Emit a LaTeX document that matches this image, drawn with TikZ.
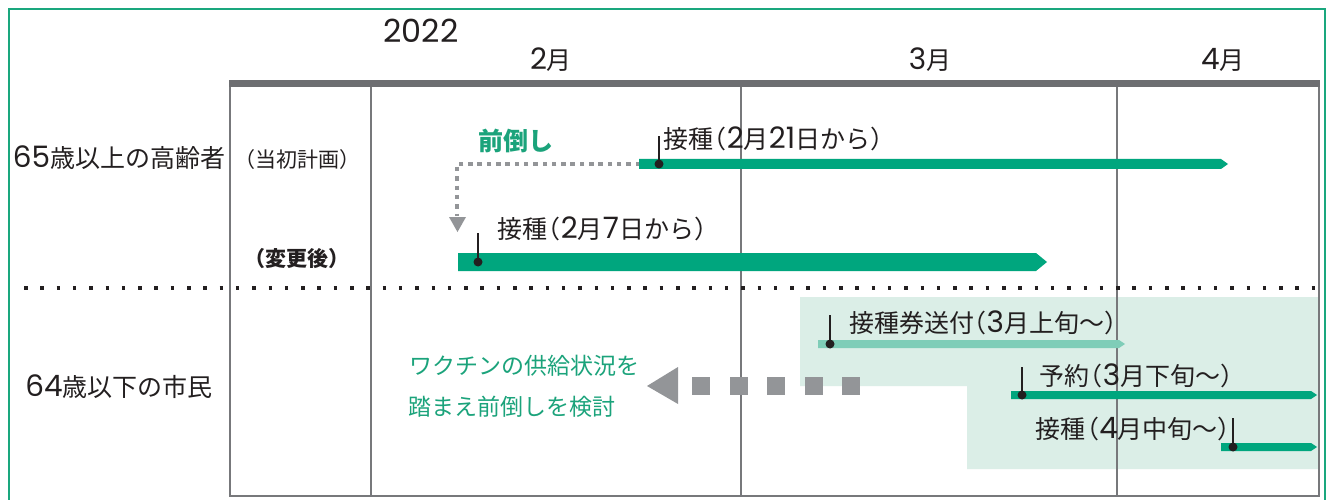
\documentclass[tikz,border=0pt]{standalone}
\usepackage{fontspec}
\setmainfont{Noto Sans CJK JP}
\newfontfamily\digf[Scale=1.18]{Poppins}
\newcommand\nm[1]{{\digf #1}}
\usetikzlibrary{calc}
\definecolor{frameg}{HTML}{1AA77E}
\definecolor{barg}{HTML}{00A67E}
\definecolor{lightbar}{HTML}{7FCDB8}
\definecolor{bgg}{HTML}{DBEEE7}
\definecolor{txtg}{HTML}{1BA37B}
\definecolor{gridc}{HTML}{77787B}
\definecolor{topbar}{HTML}{6D6E71}
\definecolor{arrg}{HTML}{939598}
\definecolor{ink}{HTML}{231F20}
\newcommand\gbar[5]{%
  \fill[#5] (#1,{#3-#4/2}) -- ({#2-#4/2-2},{#3-#4/2}) -- (#2,#3) -- ({#2-#4/2-2},{#3+#4/2}) -- (#1,{#3+#4/2}) -- cycle;}
\begin{document}
\begin{tikzpicture}[x=1pt,y=-1pt,
  lbl/.style={inner sep=0pt,text=ink,font=\fontsize{25}{27}\selectfont},
  sm/.style={inner sep=0pt,text=ink,font=\fontsize{21}{23}\selectfont},
  glbl/.style={inner sep=0pt,text=txtg,font=\fontsize{23}{25}\selectfont},
  grid/.style={gridc,line width=2pt},
  tick/.style={ink,line width=1.3pt},
  dotm/.style={circle,fill=ink,inner sep=0pt,minimum size=9pt}]
\useasboundingbox (0,0) rectangle (1328,500);
\fill[white] (0,0) rectangle (1328,500);
% light green background
\fill[bgg] (800,297) -- (1318,297) -- (1318,469) -- (967,469) -- (967,386) -- (800,386) -- cycle;
% frame
\draw[frameg,line width=2.5pt] (9,9) rectangle (1325,530);
% grid
\draw[grid] (230,84) -- (230,496) -- (1319,496) -- (1319,84);
\draw[grid] (371,84) -- (371,496);
\draw[grid] (741,84) -- (741,496);
\draw[grid] (1117,84) -- (1117,496);
\fill[topbar] (229,80) rectangle (1320,87.5);
% header labels
\node[lbl,font=\fontsize{27}{29}\selectfont] (yr) at (421,31) {\nm{2022}};
\node[lbl] (m2) at (551,60) {\nm{2}月};
\node[lbl] (m3) at (930,60) {\nm{3}月};
\node[lbl] (m4) at (1223,60) {\nm{4}月};
% row labels
\node[lbl] (r1) at (119,158) {\nm{65}歳以上の高齢者};
\node[sm] (p1) at (297,160) {（当初計画）};
\node[sm,font=\fontsize{21}{23}\selectfont\bfseries] (p2) at (297,259) {（変更後）};
\node[lbl] (r2) at (119,387) {\nm{64}歳以下の市民};
% separator
\draw[ink,line width=3.5pt,dash pattern=on 3.5pt off 12.8pt] (24,288) -- (1318,288);
% shift arrow (dotted)
\coordinate (s0) at (640,164);
\coordinate (s1) at (457,164);
\coordinate (s2) at (457,216);
\draw[arrg,line width=4.5pt,dash pattern=on 4.5pt off 4.8pt] (s0) -- (s1) -- (s2);
\fill[arrg] (449,217) -- (466,217) -- (457.5,232) -- cycle;
\node[inner sep=0pt,text=txtg,font=\fontsize{25}{27}\selectfont\bfseries] (mae) at (516,141) {前倒し};
% original bar
\gbar{639}{1228}{164}{10}{barg}
\node[dotm] (d1) at (659,164) {};
\draw[tick] (d1.center) -- (659,136);
\node[lbl,anchor=west] (t1) at (663,139) {接種\kern-0.45em（\nm{2}月\nm{21}日から）};
% new bar
\gbar{458}{1047}{262}{18}{barg}
\node[dotm] (d2) at (478,262) {};
\draw[tick] (d2.center) -- (478,233);
\node[lbl,anchor=west] (t2) at (497,229) {接種\kern-0.45em（\nm{2}月\nm{7}日から）};
% lower bars
\gbar{818}{1125}{344}{8}{lightbar}
\node[dotm] (d3) at (830,344) {};
\draw[tick] (d3.center) -- (830,315);
\node[lbl,anchor=west] (t3) at (849,323) {接種券送付\kern-0.5em（\nm{3}月上旬～）};
\gbar{1011}{1317}{395}{8}{barg}
\node[dotm] (d4) at (1022,395) {};
\draw[tick] (d4.center) -- (1022,367);
\node[lbl,anchor=west] (t4) at (1039,376) {予約\kern-0.45em（\nm{3}月下旬～）};
\gbar{1221}{1317}{447}{8}{barg}
\node[dotm] (d5) at (1233,447) {};
\draw[tick] (d5.center) -- (1233,418);
\node[lbl,anchor=east] (t5) at (1243,429) {接種\kern-0.45em（\nm{4}月中旬～）};
% big dashed arrow
\foreach \x in {692,729.5,767,804.5,842}{\fill[arrg] (\x,377) rectangle ++(18,18);}
\fill[arrg] (647,386) -- (678,367) -- (678,404) -- cycle;
\node[glbl,anchor=west] (g1) at (409,366) {ワクチンの供給状況を};
\node[glbl,anchor=west] (g2) at (408,407) {踏まえ前倒しを検討};
\end{tikzpicture}
\end{document}
